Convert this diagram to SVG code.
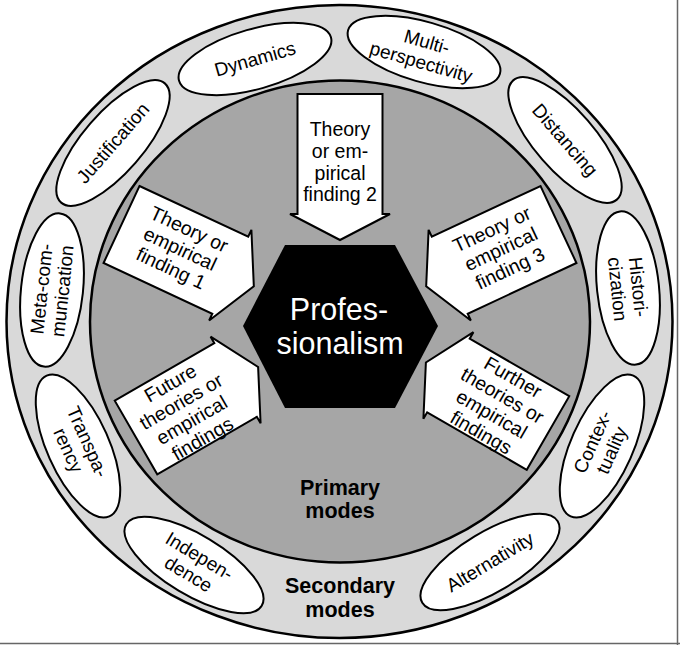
<svg xmlns="http://www.w3.org/2000/svg" width="680" height="645" viewBox="0 0 680 645">
<style>
.t{font-family:"Liberation Sans",Arial,sans-serif;font-size:19px;text-anchor:middle;fill:#000}
.a{font-size:19.5px}
.b{font-weight:bold;font-size:21.5px}
.hx{fill:#fff;font-size:30.5px}
.ov{fill:#fff;stroke:#000;stroke-width:2}
.ar{fill:#fff;stroke:#000;stroke-width:2;stroke-linejoin:miter}
</style>
<defs>
<path id="arrow120" d="M0,-42.5 L120,-42.5 L120,-50 L146,0 L120,50 L120,42.5 L0,42.5 Z"/>
<path id="arrow115" d="M0,-42.5 L115,-42.5 L115,-50 L141,0 L115,50 L115,42.5 L0,42.5 Z"/>
</defs>
<rect width="680" height="645" fill="#fff"/>
<line x1="677.5" y1="0" x2="677.5" y2="645" stroke="#666" stroke-width="1.5"/>
<line x1="0" y1="643.5" x2="680" y2="643.5" stroke="#666" stroke-width="1.5"/>

<g id="secondary-ring">
<ellipse cx="339.5" cy="321.5" rx="333" ry="316.5" fill="#d9d9d9" stroke="#000" stroke-width="2.5"/>
<text class="t b" x="340" y="593">Secondary</text>
<text class="t b" x="340" y="617">modes</text>
</g>
<g id="primary-area">
<ellipse cx="340" cy="321.5" rx="250" ry="241" fill="#a6a6a6" stroke="#000" stroke-width="2.5"/>
<text class="t b" x="340" y="495">Primary</text>
<text class="t b" x="340" y="518">modes</text>
</g>

<g id="dynamics" transform="translate(255,59) rotate(-16)">
<ellipse class="ov" rx="79" ry="30"/>
<text class="t" y="6.5">Dynamics</text>
</g>
<g id="multiperspectivity" transform="translate(424,52) rotate(16)">
<ellipse class="ov" rx="79" ry="30"/>
<text class="t" y="-4">Multi-</text>
<text class="t" y="17">perspectivity</text>
</g>
<g id="distancing" transform="translate(565,140) rotate(49)">
<ellipse class="ov" rx="79" ry="30"/>
<text class="t" y="6.5">Distancing</text>
</g>
<g id="historicization" transform="translate(628,288) rotate(84)">
<ellipse class="ov" rx="77" ry="31"/>
<text class="t" y="-4">Histori-</text>
<text class="t" y="17">cization</text>
</g>
<g id="contextuality" transform="translate(602,446) rotate(-66)">
<ellipse class="ov" rx="77" ry="31"/>
<text class="t" y="-4">Contex-</text>
<text class="t" y="17">tuality</text>
</g>
<g id="alternativity" transform="translate(490,562) rotate(-31)">
<ellipse class="ov" rx="79" ry="30"/>
<text class="t" y="6.5">Alternativity</text>
</g>
<g id="independence" transform="translate(194,565) rotate(31)">
<ellipse class="ov" rx="79" ry="30"/>
<text class="t" y="-4">Indepen-</text>
<text class="t" y="17">dence</text>
</g>
<g id="transparency" transform="translate(78,446) rotate(66)">
<ellipse class="ov" rx="77" ry="31"/>
<text class="t" y="-4">Transpa-</text>
<text class="t" y="17">rency</text>
</g>
<g id="metacommunication" transform="translate(52,290) rotate(-84)">
<ellipse class="ov" rx="77" ry="31"/>
<text class="t" y="-4">Meta-com-</text>
<text class="t" y="17">munication</text>
</g>
<g id="justification" transform="translate(113,143) rotate(-49)">
<ellipse class="ov" rx="79" ry="30"/>
<text class="t" y="6.5">Justification</text>
</g>

<g id="connectors">
<g id="finding2">
<use href="#arrow120" class="ar" transform="translate(340,94) rotate(90)"/>
<text class="t a" x="340" y="136">Theory</text>
<text class="t a" x="340" y="158">or em-</text>
<text class="t a" x="340" y="180">pirical</text>
<text class="t a" x="340" y="201">finding 2</text>
</g>
<g id="finding1">
<use href="#arrow120" class="ar" transform="translate(121.5,224.5) rotate(25)"/>
<g transform="translate(180,249) rotate(25)">
<text class="t a" y="-15">Theory or</text>
<text class="t a" y="6.5">empirical</text>
<text class="t a" y="28">finding 1</text>
</g>
</g>
<g id="finding3">
<use href="#arrow120" class="ar" transform="translate(558.5,224.5) rotate(155)"/>
<g transform="translate(501,249) rotate(-25)">
<text class="t a" y="-15">Theory or</text>
<text class="t a" y="6.5">empirical</text>
<text class="t a" y="28">finding 3</text>
</g>
</g>
<g id="future">
<use href="#arrow115" class="ar" transform="translate(136,437.5) rotate(-30)"/>
<g transform="translate(186.5,411) rotate(-30)">
<text class="t a" y="-25.5">Future</text>
<text class="t a" y="-4.2">theories or</text>
<text class="t a" y="17.2">empirical</text>
<text class="t a" y="38.5">findings</text>
</g>
</g>
<g id="further">
<use href="#arrow115" class="ar" transform="translate(548,433) rotate(210)"/>
<g transform="translate(497,405) rotate(30)">
<text class="t a" y="-25.5">Further</text>
<text class="t a" y="-4.2">theories or</text>
<text class="t a" y="17.2">empirical</text>
<text class="t a" y="38.5">findings</text>
</g>
</g>
</g>

<g id="professionalism">
<polygon points="285,245 395,245 438,326 395,408 285,408 243,326" fill="#000"/>
<text class="t hx" x="339" y="320">Profes-</text>
<text class="t hx" x="340" y="354">sionalism</text>
</g>
</svg>
